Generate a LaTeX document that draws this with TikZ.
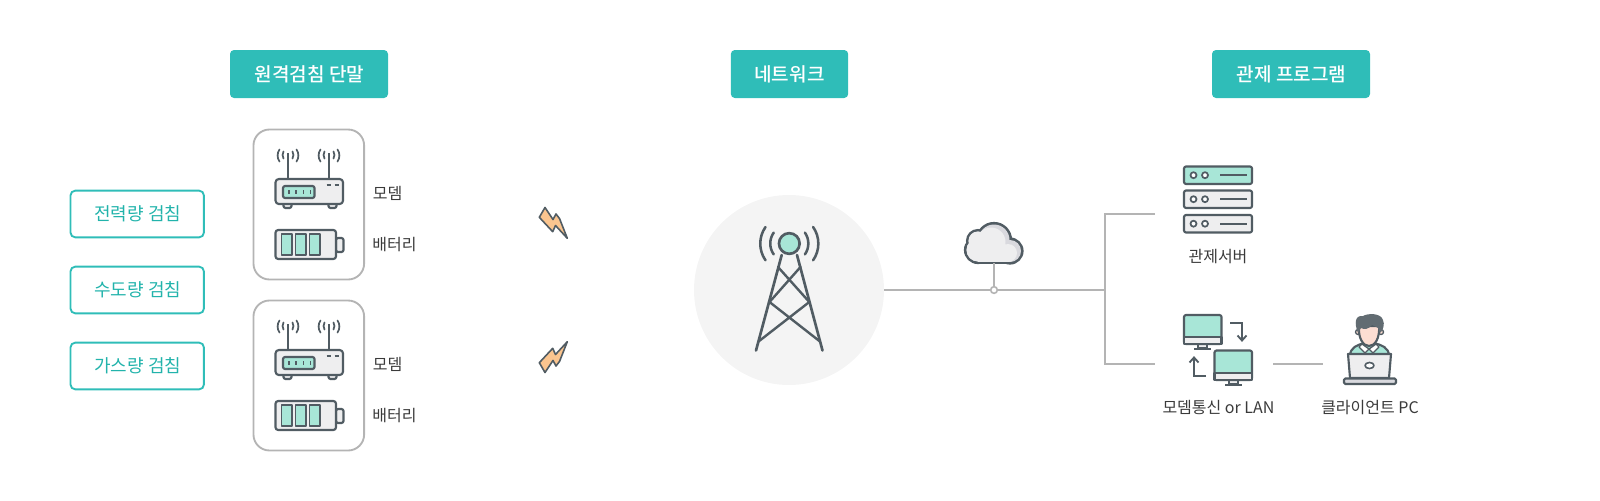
\documentclass[tikz,border=0pt]{standalone}
\usepackage{fontspec}
\setmainfont{Noto Sans CJK KR}
\newfontfamily\medfont{Noto Sans CJK KR Medium}
\definecolor{tealbg}{HTML}{2FBDB8}
\definecolor{tealtxt}{HTML}{22B3AB}
\definecolor{mint}{HTML}{A8E6D7}
\definecolor{ink}{HTML}{515C63}
\definecolor{wire}{HTML}{B4B4B4}
\definecolor{pale}{HTML}{EEEEEF}
\definecolor{halo}{HTML}{F4F4F4}
\definecolor{txt}{HTML}{3A3A3A}
\definecolor{bolt}{HTML}{FBC58F}
\definecolor{skin}{HTML}{FCDDD2}
\definecolor{cloudshade}{HTML}{D9D9DE}
\tikzset{
  x=0.75pt,y=-0.75pt,
  header/.style={fill=tealbg,rounded corners=3pt,text=white,font=\medfont\fontsize{14.3pt}{17pt}\selectfont,inner sep=0pt,anchor=center},
  metering/.style={draw=tealbg,line width=1.4pt,rounded corners=3.5pt,text=tealtxt,font=\fontsize{13.5pt}{16pt}\selectfont,inner sep=0pt,minimum width=100pt,minimum height=35pt,anchor=center},
  devbox/.style={draw=wire,line width=1.4pt,rounded corners=12pt,fill=white,minimum width=83pt,minimum height=112.5pt,inner sep=0pt,anchor=center},
  lbl/.style={text=txt,font=\fontsize{12pt}{14pt}\selectfont,inner sep=0pt,anchor=center},
  wireline/.style={draw=wire,line width=1.4pt},
  icon/.style={draw=ink,line width=1.6pt,line join=round},
  thin icon/.style={draw=ink,line width=1.3pt,line cap=round},
  pics/unit/.style={code={
    % router
    \draw[icon] (288,153)--(288,178) (329,153)--(329,178);
    \foreach \ax in {288,329}{
      \draw[thin icon] (\ax-4.5,151.5) arc[start angle=210,end angle=150,radius=7];
      \draw[thin icon] (\ax-8.5,149.5) arc[start angle=215,end angle=145,radius=10.5];
      \draw[thin icon] (\ax+4.5,151.5) arc[start angle=-30,end angle=30,radius=7];
      \draw[thin icon] (\ax+8.5,149.5) arc[start angle=-35,end angle=35,radius=10.5];
    }
    \draw[icon,fill=pale,rounded corners=1.5pt] (283.5,203) rectangle (291.5,208);
    \draw[icon,fill=pale,rounded corners=1.5pt] (328.5,203) rectangle (336.5,208);
    \draw[icon,fill=pale,rounded corners=2.5pt] (275.5,179) rectangle (343,204);
    \draw[icon,fill=mint,rounded corners=1.5pt] (283,186) rectangle (314.5,198);
    \foreach \dx in {289,296,303.5,310.5}{\draw[ink,line width=1.3pt] (\dx,190)--(\dx,194);}
    \draw[ink,line width=1.2pt] (326.5,185)--(330.5,185) (334.5,185)--(338.5,185);
    % battery
    \draw[icon,fill=pale,rounded corners=1.5pt] (336,238) rectangle (343.5,252);
    \draw[icon,fill=pale,rounded corners=2pt] (275.5,230) rectangle (336,259);
    \foreach \cx in {281.5,295.5,309.5}{\draw[icon,line width=1.2pt,fill=mint] (\cx,234) rectangle (\cx+10.5,255);}
  }},
}
\begin{document}
\begin{tikzpicture}
\useasboundingbox (0,0) rectangle (1600,500);
% headers
\node[header,minimum width=118.5pt,minimum height=36pt] (h1) at (309,74) {\hspace{0.7pt}원격검침 단말};
\node[header,minimum width=88pt,minimum height=36pt] (h2) at (789.5,74) {네트워크};
\node[header,minimum width=118.5pt,minimum height=36pt] (h3) at (1291,74) {\hspace{0.7pt}관제 프로그램};
% metering
\node[metering] (m1) at (137.2,214) {\raisebox{-0.7pt}{\hspace{0.8pt}전력량 검침}};
\node[metering] (m2) at (137.2,290) {\raisebox{-0.7pt}{\hspace{0.8pt}수도량 검침}};
\node[metering] (m3) at (137.2,366) {\raisebox{-0.7pt}{\hspace{0.8pt}가스량 검침}};
% device boxes
\node[devbox] (d1) at (308.8,204.5) {};
\node[devbox] (d2) at (308.8,375.5) {};
\pic at (0,0) {unit};
\pic at (0,171) {unit};
\node[lbl] (l1) at (387.5,193) {모뎀};
\node[lbl] (l2) at (394.5,244.5) {배터리};
\node[lbl] (l3) at (387.5,364) {모뎀};
\node[lbl] (l4) at (394.5,415.5) {배터리};
% bolts
\draw[icon,fill=bolt,line width=1.2pt,miter limit=10] (545,207.5)--(539.3,217.3)--(552.7,231.7)--(555.5,225.5)--(567.3,238.3)--(559.5,218.5)--(556,214)--(553,219.5)--cycle;
\draw[icon,fill=bolt,line width=1.2pt,miter limit=10] (545,372.5)--(539.3,362.7)--(552.7,348.3)--(555.5,354.5)--(567.3,341.7)--(559.5,361.5)--(556,366)--(553,360.5)--cycle;
% network
\node[circle,fill=halo,minimum size=142.5pt,inner sep=0pt] (tower) at (789,290) {};
\begin{scope}[ink,line width=2pt,line cap=round]
\draw (781.7,255)--(756,350.5) (797,255)--(822.5,350.5);
\draw[line width=1.8pt] (778,267)--(809.3,302)--(758.5,341.5) (800.5,267)--(769.5,302)--(820,341.5);
\draw[line width=1.9pt] (773.7,232.6) arc[start angle=215,end angle=145,radius=19];
\draw[line width=1.9pt] (804.9,232.6) arc[start angle=-35,end angle=35,radius=19];
\draw[line width=1.9pt] (765.5,227) arc[start angle=215,end angle=145,radius=29];
\draw[line width=1.9pt] (813.1,227) arc[start angle=-35,end angle=35,radius=29];
\end{scope}
\node[circle,draw=ink,line width=2pt,fill=mint,minimum size=15.5pt,inner sep=0pt] (beacon) at (789.3,243.5) {};
% cloud
\coordinate (cloudbase) at (994,263);
\begin{scope}
\foreach \c/\r in {{(978,250)}/11.5,{(1010,251)}/11,{(994,240)}/15.5,{(978,241)}/9.5}{
  \fill[ink] \c circle[radius=\r+2.6];}
\fill[ink] (978,246) rectangle (1010,264.4);
\fill[cloudshade] (978,250) circle[radius=11.5] (1010,251) circle[radius=11] (994,240) circle[radius=15.5] (978,241) circle[radius=9.5];
\fill[pale] (978,250) circle[radius=11.5] (1008,253) circle[radius=9] (991,242) circle[radius=14.5] (978,241) circle[radius=9.5];
\fill[pale] (978,245) rectangle (1009,261.5);
\end{scope}
% wires
\node[circle,draw=wire,fill=white,line width=1.2pt,minimum size=5pt,inner sep=0pt] (junction) at (994,290) {};
\coordinate (bus) at (1105,290);
\coordinate (srvstub) at (1155,214);
\coordinate (lanstub) at (1155,364);
\coordinate (lanout) at (1273,364);
\coordinate (pcin) at (1323,364);
\draw[wireline] (tower) -- (junction);
\draw[wireline] (junction) -- (bus);
\draw[wireline] (cloudbase) -- (junction);
\draw[wireline] (srvstub) -- (bus |- srvstub) -- (bus |- lanstub) -- (lanstub);
\draw[wireline] (lanout) -- (pcin);
% servers
\draw[icon,fill=mint,rounded corners=1.5pt] (1184,166.5) rectangle (1252,184);
\draw[icon,fill=pale,rounded corners=1.5pt] (1184,190.5) rectangle (1252,208);
\draw[icon,fill=pale,rounded corners=1.5pt] (1184,215) rectangle (1252,232.5);
\foreach \sy in {175.2,199.2,223.7}{
  \draw[icon,line width=1.3pt,fill=white] (1193.5,\sy) circle[radius=3];
  \draw[icon,line width=1.3pt,fill=white] (1205,\sy) circle[radius=3];
  \draw[ink,line width=1.4pt] (1220,\sy)--(1247,\sy);
}
\node[lbl] (srv) at (1218,257) {관제서버};
% monitors
\draw[icon,fill=pale] (1198,344) rectangle (1207,348);
\draw[ink,line width=1.5pt] (1194,349)--(1211,349);
\draw[icon,fill=mint,rounded corners=1.5pt] (1184,315) rectangle (1221.5,344);
\draw[icon,fill=pale] (1184,337) rectangle (1221.5,344);
\draw[icon,fill=pale] (1229,380) rectangle (1238,384);
\draw[ink,line width=1.5pt] (1225,385)--(1242,385);
\draw[icon,fill=mint,rounded corners=1.5pt] (1214.5,350.5) rectangle (1252,380);
\draw[icon,fill=pale] (1214.5,373) rectangle (1252,380);
\draw[ink,line width=1.4pt] (1230,323)--(1242,323)--(1242,340);
\draw[ink,line width=1.4pt] (1237.5,335.5)--(1242,340.5)--(1246.5,335.5);
\draw[ink,line width=1.4pt] (1206,376)--(1194,376)--(1194,358);
\draw[ink,line width=1.4pt] (1189.5,362.5)--(1194,357.5)--(1198.5,362.5);
\node[lbl] (lan) at (1218.5,407) {모뎀통신 or LAN};
% person
\draw[icon,fill=mint] (1350,356) .. controls (1350,347) and (1358,345) .. (1364,343) -- (1374,343) .. controls (1381,345) and (1389,347) .. (1389,356) -- cycle;
\draw[icon,line width=1pt,fill=white] (1362,344)--(1369,349)--(1365,353)--(1359,347)--cycle (1376,344)--(1369,349)--(1373,353)--(1379,347)--cycle;
\draw[icon,fill=skin,line width=1pt] (1358,332) circle[radius=2.5] (1381,332) circle[radius=2.5];
\draw[icon,fill=skin] (1359,326) .. controls (1358,338) and (1363,346) .. (1369,346) .. controls (1375,346) and (1380,338) .. (1379,326) -- cycle;
\fill[ink!90] (1358,333) .. controls (1354,323) and (1355,315) .. (1363,316) .. controls (1368,313) and (1381,313) .. (1383,320) .. controls (1385,324) and (1383,331) .. (1380,333) -- (1378,328) .. controls (1375,326) and (1374,326) .. (1372,325) .. controls (1369,329) and (1364,330) .. (1361,328) -- cycle;
\draw[icon,fill=pale] (1348,354) -- (1391,354) -- (1389,378) -- (1350,378) -- cycle;
\draw[icon,fill=white,line width=1.2pt] (1369.5,365.5) ellipse[x radius=4.5,y radius=3];
\draw[icon,fill=cloudshade,rounded corners=1pt] (1344,378.5) rectangle (1396,384);
\node[lbl] (pc) at (1370,408) {클라이언트 PC};
\end{tikzpicture}
\end{document}
